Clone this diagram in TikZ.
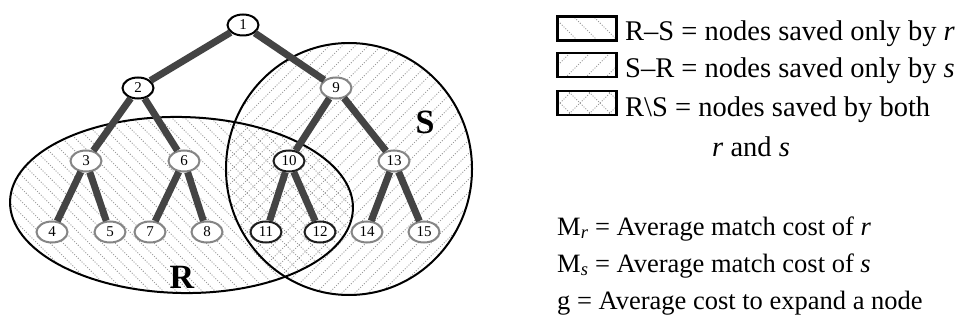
\documentclass[tikz,border=0pt]{standalone}
\usepackage{fontspec}
\setmainfont{Liberation Serif}
\usetikzlibrary{patterns,shapes.geometric}
% region hatching: tile 13pt, 7 dash periods along the diagonal
\pgfdeclarepatternformonly{nwdots}{\pgfqpoint{-1pt}{-1pt}}{\pgfqpoint{14pt}{14pt}}{\pgfqpoint{13pt}{13pt}}{%
  \pgfsetlinewidth{0.8pt}%
  \pgfsetdash{{1pt}{1.626pt}}{0pt}%
  \pgfpathmoveto{\pgfqpoint{0pt}{13pt}}%
  \pgfpathlineto{\pgfqpoint{13pt}{0pt}}%
  \pgfusepath{stroke}}
\pgfdeclarepatternformonly{nedots}{\pgfqpoint{-1pt}{-1pt}}{\pgfqpoint{14pt}{14pt}}{\pgfqpoint{13pt}{13pt}}{%
  \pgfsetlinewidth{0.8pt}%
  \pgfsetdash{{1pt}{1.626pt}}{0pt}%
  \pgfpathmoveto{\pgfqpoint{0pt}{0pt}}%
  \pgfpathlineto{\pgfqpoint{13pt}{13pt}}%
  \pgfusepath{stroke}}
% legend hatching: tile 20pt, 11 dash periods
\pgfdeclarepatternformonly{nwbox}{\pgfqpoint{-1pt}{-1pt}}{\pgfqpoint{21pt}{21pt}}{\pgfqpoint{20pt}{20pt}}{%
  \pgfsetlinewidth{0.8pt}%
  \pgfsetdash{{1pt}{1.571pt}}{0pt}%
  \pgfpathmoveto{\pgfqpoint{0pt}{20pt}}%
  \pgfpathlineto{\pgfqpoint{20pt}{0pt}}%
  \pgfusepath{stroke}}
\pgfdeclarepatternformonly{nebox}{\pgfqpoint{-1pt}{-1pt}}{\pgfqpoint{21pt}{21pt}}{\pgfqpoint{20pt}{20pt}}{%
  \pgfsetlinewidth{0.8pt}%
  \pgfsetdash{{1pt}{1.571pt}}{0pt}%
  \pgfpathmoveto{\pgfqpoint{0pt}{0pt}}%
  \pgfpathlineto{\pgfqpoint{20pt}{20pt}}%
  \pgfusepath{stroke}}
\definecolor{nodegray}{HTML}{858585}
\definecolor{edgegray}{HTML}{444444}
\definecolor{darkb}{HTML}{1E1E1E}
\definecolor{hatch}{HTML}{9A9A9A}
\begin{document}
\begin{tikzpicture}[x=1pt,y=-1pt,
  tnode/.style={ellipse,draw=#1,line width=2pt,fill=white,minimum width=31pt,minimum height=21pt,inner sep=0pt,font=\fontsize{15}{15}\selectfont},
  gnode/.style={tnode=nodegray},
  bnode/.style={tnode=black},
  dnode/.style={tnode=darkb},
  tedge/.style={draw=edgegray,line width=7pt},
  region/.style={line width=2pt},
  legbox/.style={draw=black,line width=2.8pt,minimum width=59pt,minimum height=24pt,inner sep=0pt,pattern color=hatch},
  topt/.style={anchor=base west,inner sep=0pt,font=\fontsize{28.5}{30}\selectfont},
  bott/.style={anchor=base west,inner sep=0pt,font=\fontsize{26.5}{28}\selectfont},
  biglab/.style={inner sep=0pt,font=\fontsize{34}{34}\selectfont\bfseries}
]
\useasboundingbox (0,0) rectangle (966,323);
% regions
\begin{scope}[rotate around={-1.2:(181.5,205)}]
  \path[pattern=nwdots,pattern color=hatch] (181.5,205) ellipse [x radius=171.5,y radius=88];
\end{scope}
\path[pattern=nedots,pattern color=hatch] (349,169) ellipse [x radius=123,y radius=126];
\begin{scope}[rotate around={-1.2:(181.5,205)}]
  \draw[region] (181.5,205) ellipse [x radius=171.5,y radius=88];
\end{scope}
\draw[region] (349,169) ellipse [x radius=123,y radius=126];
\node[biglab] (labR) at (182,277) {R};
\node[biglab] (labS) at (425,122) {S};
% tree nodes
\node[bnode] (n1) at (243,25) {1};
\node[bnode] (n2) at (138,88) {2};
\node[gnode] (n9) at (336,88) {9};
\node[gnode] (n3) at (86,161) {3};
\node[gnode] (n6) at (184,161) {6};
\node[dnode] (n10) at (289,161) {10};
\node[gnode] (n13) at (394,161) {13};
\node[gnode] (n4) at (52,232) {4};
\node[gnode] (n5) at (110,232) {5};
\node[gnode] (n7) at (150,232) {7};
\node[gnode] (n8) at (207,232) {8};
\node[dnode] (n11) at (266,232) {11};
\node[dnode] (n12) at (320,232) {12};
\node[gnode] (n14) at (367,232) {14};
\node[gnode] (n15) at (424,232) {15};
% edges
\foreach \a/\b in {n1/n2,n1/n9,n2/n3,n2/n6,n9/n10,n9/n13,n3/n4,n3/n5,n6/n7,n6/n8,n10/n11,n10/n12,n13/n14,n13/n15}
  \draw[tedge] (\a) -- (\b);
% legend
\node[legbox,pattern=nwbox] (b1) at (587,28.5) {};
\node[legbox,pattern=nebox] (b2) at (587,65) {};
\node[legbox,preaction={pattern=nwbox,pattern color=hatch},pattern=nebox] (b3) at (587,103) {};
\node[topt] (t1) at (625,41) {R–S = nodes saved only by \textit{r}};
\node[topt] (t2) at (625,78) {S–R = nodes saved only by \textit{s}};
\node[topt] (t3) at (625,117) {R\textbackslash S = nodes saved by both};
\node[topt] (t4) at (712,157) {\textit{r} and \textit{s}};
\node[bott] (t5) at (557,235) {M\textsubscript{\textit{r}} = Average match cost of \textit{r}};
\node[bott] (t6) at (557,272) {M\textsubscript{\textit{s}} = Average match cost of \textit{s}};
\node[bott] (t7) at (557,309) {g = Average cost to expand a node};
\end{tikzpicture}
\end{document}
